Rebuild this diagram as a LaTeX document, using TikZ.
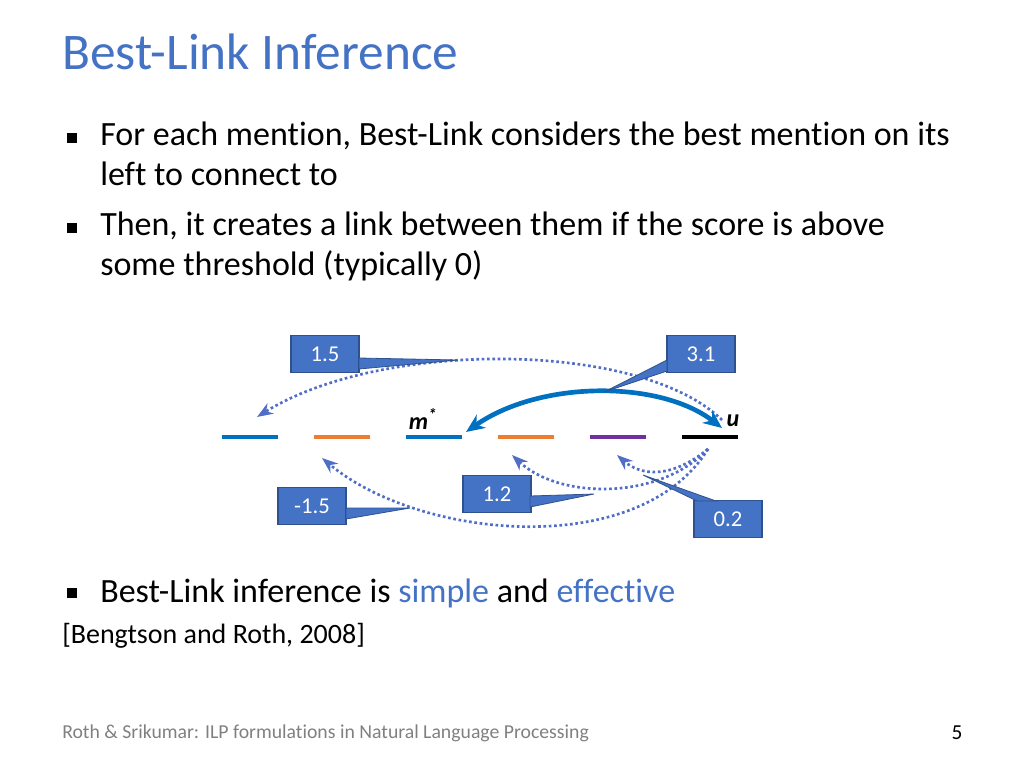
\documentclass[tikz,border=0pt]{standalone}
\usepackage{fontspec}
\setmainfont{Carlito}[Ligatures=NoCommon]
\usetikzlibrary{arrows.meta}
\definecolor{titleblue}{RGB}{68,114,196}
\definecolor{boxblue}{RGB}{68,114,196}
\definecolor{boxdark}{RGB}{47,82,143}
\definecolor{dotblue}{RGB}{80,110,200}
\definecolor{segblue}{RGB}{0,112,192}
\definecolor{segorange}{RGB}{237,125,49}
\definecolor{segpurple}{RGB}{112,48,160}

\begin{document}
\begin{tikzpicture}[x=0.75pt,y=-0.75pt,>=Stealth,
  score node/.style={rectangle,fill=boxblue,draw=boxdark,line width=1pt,text=white,
    font=\fontsize{17}{17}\selectfont,minimum width=51pt,minimum height=28pt},
  tail/.style={fill=boxblue,draw=boxdark,line width=0.6pt},
  seg/.style={line width=2.5pt},
  link/.style={->,dotted,dotblue,line width=2pt},
  bullet/.style={fill=black,minimum size=7.5pt,inner sep=0pt,rectangle},
  body/.style={anchor=west,font=\fontsize{25.5}{30}\selectfont,align=left,inner sep=0pt}]

  \useasboundingbox (0,0) rectangle (1024,768);

  \node[anchor=west,text=titleblue,font=\fontsize{38.5}{38.5}\selectfont,inner sep=0pt] (title) at (62,52) {Best-Link Inference};

  \node[bullet] (b1) at (72,138) {};
  \node[body,anchor=north west] (t1) at (100,122) {For each mention, Best-Link considers the best mention on its\\left to connect to};
  \node[bullet] (b2) at (72,228) {};
  \node[body,anchor=north west] (t2) at (100,212) {Then, it creates a link between them if the score is above\\some threshold (typically 0)};
  \node[bullet] (b3) at (72,593) {};
  \node[body] (t3) at (100,593) {Best-Link inference is \textcolor{titleblue}{simple} and \textcolor{titleblue}{effective}};
  \node[anchor=west,font=\fontsize{21}{21}\selectfont,inner sep=0pt] (cite) at (62,636) {[Bengtson and Roth, 2008]};

  \node[anchor=west,text=gray,font=\fontsize{14.8}{14.8}\selectfont,inner sep=0pt] (foot) at (62,733) {Roth \& Srikumar: ILP formulations in Natural Language Processing};
  \node[font=\fontsize{16}{16}\selectfont,inner sep=0pt] (page) at (957,733) {5};

  % mentions
  \draw[seg,segblue] (222,437) -- (278,437);
  \draw[seg,segorange] (314,437) -- (370,437);
  \draw[seg,segblue] (406,437) -- (462,437);
  \draw[seg,segorange] (498,437) -- (554,437);
  \draw[seg,segpurple] (590,437) -- (646,437);
  \draw[seg,black] (682,437) -- (738,437);
  \node[font=\fontsize{18}{18}\selectfont\bfseries\itshape,inner sep=0pt] (mstar) at (423,419) {m\textsuperscript{*}};
  \node[font=\fontsize{18}{18}\selectfont\bfseries\itshape,inner sep=0pt] (u) at (733,421) {u};

  % links
  \coordinate (ua) at (722,420);
  \coordinate (ub) at (708,449);
  \coordinate (m1) at (257,417);
  \coordinate (m2) at (322,458);
  \coordinate (m4) at (512,455);
  \coordinate (m5) at (617,455);
  \coordinate (m3) at (466,432);
  \coordinate (m6) at (722,428);
  \draw[link] (ua) .. controls (640,340) and (380,340) .. (m1);
  \draw[link] (ub) .. controls (640,560) and (420,540) .. (m2);
  \draw[link] (ub) .. controls (660,500) and (560,500) .. (m4);
  \draw[link] (ub) .. controls (670,480) and (640,475) .. (m5);
  \draw[<->,segblue,line width=3.5pt,>={Stealth[length=14pt,width=12pt]}] (m3) .. controls (540,380) and (660,380) .. (m6);

  % scores
  \node[score node] (s15) at (325,354) {1.5};
  \node[score node] (s31) at (701,354) {3.1};
  \node[score node] (sm15) at (312,506) {-1.5};
  \node[score node] (s12) at (497,494) {1.2};
  \node[score node] (s02) at (728,519) {0.2};
  \draw[tail] (359,358) -- (458,360) -- (359,369) -- cycle;
  \draw[tail] (667,360) -- (604,392) -- (667,371) -- cycle;
  \draw[tail] (346,508) -- (410,508) -- (346,519) -- cycle;
  \draw[tail] (530,496) -- (594,494) -- (530,507) -- cycle;
  \draw[tail] (697,501) -- (643,475) -- (716,501) -- cycle;
\end{tikzpicture}
\end{document}
